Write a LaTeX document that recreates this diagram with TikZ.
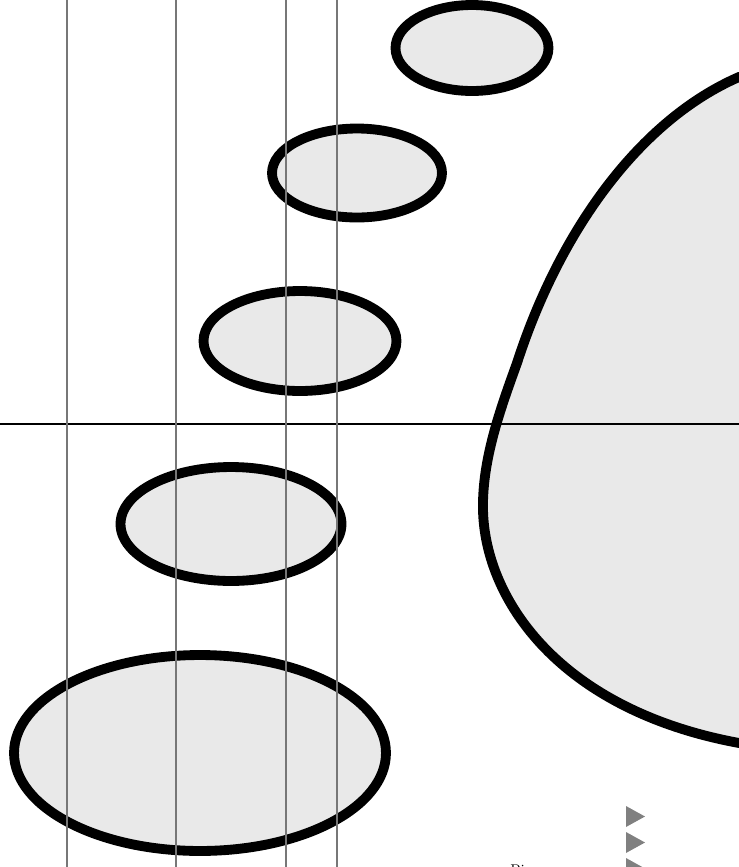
\documentclass[tikz,border=0pt]{standalone}
\usepackage{xcolor}
\usepackage{tikz}
\usetikzlibrary{shapes,arrows.meta,positioning,calc}
\definecolor{blobfill}{HTML}{E9E9E9}
\definecolor{railgray}{HTML}{777777}
\definecolor{markgray}{HTML}{808080}

\begin{document}
\begin{tikzpicture}[x=0.02cm, y=-0.02cm,
  pebble/.style={ellipse, draw=black, line width=5.6pt, fill=blobfill, inner sep=0pt},
  rail/.style={draw=railgray, line width=1.1pt},
  marker/.style={fill=markgray, draw=none}]
\useasboundingbox (0,0) rectangle (739,867);
\clip (0,0) rectangle (739,867);
% big blob on the right
\draw[line width=5.6pt, fill=blobfill] (739,77) .. controls (640,120) and (560,230) .. (517,363)
  .. controls (500,410) and (482,460) .. (483,510)
  .. controls (485,600) and (560,710) .. (739,743) -- (780,743) -- (780,77) -- cycle;
% pebbles
\node[pebble, minimum width=3.06cm, minimum height=1.72cm] (p1) at (472,48) {};
\node[pebble, minimum width=3.40cm, minimum height=1.78cm] (p2) at (357,173) {};
\node[pebble, minimum width=3.86cm, minimum height=2.00cm] (p3) at (300,341) {};
\node[pebble, minimum width=4.42cm, minimum height=2.28cm] (p4) at (231,524) {};
\node[pebble, minimum width=7.44cm, minimum height=3.92cm] (p5) at (200,753) {};
% axis line
\draw[line width=1.1pt] (0,424) -- (739,424);
% rails
\foreach \xr in {67,176,286,337}
  \draw[rail] (\xr,0) -- (\xr,867);
% markers
\foreach \yt in {806,832,858}
  \fill[marker] (626,\yt) -- (645,\yt+10.5) -- (626,\yt+21) -- cycle;
\node[font=\footnotesize, anchor=base west, inner sep=0pt] (lbl) at (510,874) {Pi};
\end{tikzpicture}
\end{document}
